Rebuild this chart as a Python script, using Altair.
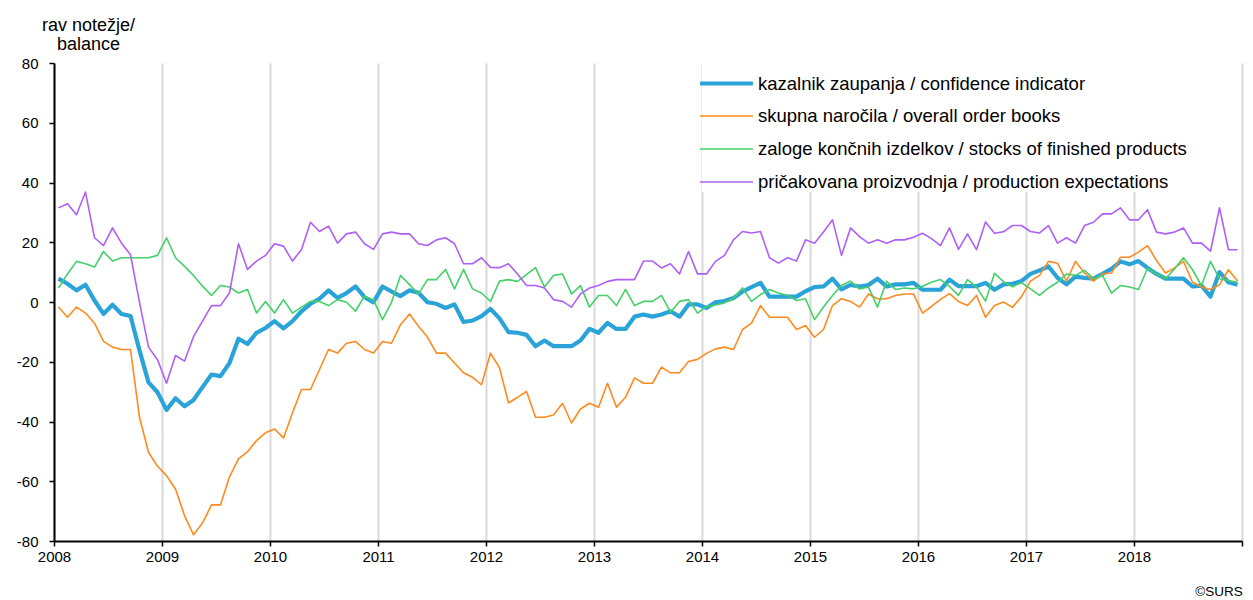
import altair as alt
import pandas as pd

# Monthly balances, Jan 2008 - Dec 2018
confidence = [
    7.8, 6.1, 3.9, 5.8, 0.5, -4.0, -0.9, -4.0, -4.7, -16.2, -26.9, -30.2,
    -36.1, -32.2, -34.9, -32.8, -28.5, -24.3, -24.8, -20.4, -12.3, -14.0, -10.3, -8.7,
    -6.4, -8.8, -6.4, -3.1, -0.6, 1.1, 3.9, 1.4, 3.0, 5.2, 1.6, -0.1,
    5.2, 3.5, 2.0, 3.9, 3.1, -0.1, -0.6, -2.0, -0.8, -6.7, -6.2, -4.7,
    -2.3, -5.5, -10.1, -10.3, -11.0, -14.8, -12.9, -14.8, -14.8, -14.8, -12.9, -9.0,
    -10.3, -7.0, -9.0, -9.0, -4.9, -4.2, -4.9, -4.2, -3.1, -4.9, -0.8, -0.8,
    -2.0, -0.1, 0.3, 1.3, 3.5, 5.0, 6.4, 1.8, 1.8, 1.8, 1.8, 3.6,
    5.0, 5.2, 7.8, 4.2, 5.7, 5.2, 5.7, 7.8, 5.2, 5.9, 5.9, 6.4,
    4.1, 4.1, 4.1, 7.5, 5.3, 5.3, 5.3, 6.4, 4.1, 5.9, 6.1, 7.0,
    9.4, 10.6, 11.9, 8.1, 5.9, 8.5, 8.1, 7.8, 9.4, 11.1, 13.6, 12.6,
    13.7, 11.4, 9.4, 7.8, 7.8, 7.8, 5.2, 5.5, 1.8, 10.0, 6.6, 5.8,
]
order_books = [
    -1.7, -5.1, -1.7, -3.7, -7.1, -13.2, -15.1, -15.9, -15.9, -38.6, -50.3, -55.0,
    -58.1, -62.6, -71.5, -77.9, -74.0, -67.9, -67.9, -58.5, -52.5, -50.1, -46.4, -43.8,
    -42.5, -45.5, -37.1, -29.3, -29.3, -22.6, -15.9, -17.1, -13.8, -13.2, -15.9, -17.1,
    -13.2, -13.8, -7.6, -4.0, -8.1, -11.8, -17.1, -17.1, -20.4, -23.7, -25.2, -27.7,
    -17.1, -22.0, -33.8, -31.9, -29.9, -38.6, -38.6, -37.8, -33.9, -40.5, -35.8, -33.9,
    -35.2, -27.2, -35.2, -31.9, -25.4, -27.2, -27.2, -21.8, -23.7, -23.7, -19.9, -19.2,
    -17.2, -15.7, -15.1, -15.9, -9.2, -7.1, -1.2, -5.1, -5.1, -5.1, -9.2, -7.9,
    -11.8, -9.2, -1.2, 1.1, 0.2, -1.7, 2.7, 1.1, 1.1, 2.2, 2.7, 2.7,
    -3.7, -1.5, 0.9, 2.8, 0.2, -1.2, 2.2, -5.1, -1.2, 0.0, -1.8, 1.8,
    7.0, 8.9, 13.6, 13.0, 7.0, 13.6, 9.7, 7.0, 9.4, 9.7, 15.0, 15.0,
    16.7, 18.9, 13.9, 9.7, 11.4, 13.6, 6.6, 5.0, 4.2, 5.8, 10.8, 7.0,
]
stocks = [
    4.7, 9.4, 13.6, 12.8, 11.7, 16.9, 13.7, 14.8, 14.8, 14.8, 14.8, 15.6,
    21.5, 14.8, 11.9, 8.9, 5.3, 2.2, 5.5, 5.0, 3.0, 4.2, -3.7, 0.2,
    -3.7, 0.8, -3.7, -1.7, 0.2, 0.2, -1.2, 0.8, -0.1, -3.1, 2.0, 0.7,
    -5.9, -0.1, 8.9, 5.8, 2.7, 7.5, 7.5, 10.9, 4.4, 10.9, 4.4, 3.0,
    0.2, 7.0, 7.5, 6.9, 9.2, 11.5, 5.0, 8.9, 9.4, 2.7, 5.5, -1.7,
    2.2, 2.2, -1.2, 4.2, -1.2, 0.2, 0.2, 2.2, -3.4, 0.2, 0.8, -3.7,
    -1.5, -1.0, -0.3, 1.3, 4.7, 0.2, 2.5, 4.2, 3.0, 2.2, 0.5, 1.1,
    -5.9, -1.7, 2.2, 5.5, 7.0, 4.4, 5.0, -1.7, 6.9, 4.2, 4.7, 4.4,
    5.3, 6.6, 7.5, 5.2, 2.2, 7.5, 5.0, 0.3, 9.6, 6.8, 5.1, 6.5,
    4.4, 2.2, 4.7, 6.6, 9.4, 8.9, 10.6, 7.8, 8.9, 3.0, 5.5, 5.0,
    4.2, 11.3, 9.4, 7.8, 11.1, 14.8, 10.8, 5.5, 13.6, 7.8, 7.2, 6.6,
]
production = [
    31.5, 32.9, 29.2, 36.8, 21.5, 18.9, 24.8, 19.7, 15.8, -0.1, -15.1, -19.3,
    -27.2, -17.9, -19.8, -11.6, -6.4, -1.2, -1.2, 3.1, 19.5, 10.9, 13.7, 15.6,
    19.5, 18.7, 13.7, 17.6, 26.7, 23.6, 25.4, 19.7, 22.8, 23.4, 19.5, 17.6,
    22.8, 23.4, 22.8, 22.8, 19.5, 18.9, 20.8, 21.5, 19.5, 12.8, 12.8, 14.8,
    11.6, 11.5, 12.8, 9.4, 5.5, 5.5, 4.7, 0.8, 0.2, -1.7, 2.7, 4.7,
    5.5, 6.9, 7.5, 7.5, 7.5, 13.7, 13.7, 11.4, 12.8, 9.4, 16.9, 9.4,
    9.4, 13.6, 15.6, 20.8, 23.6, 23.1, 23.6, 14.8, 13.0, 14.8, 13.7, 20.8,
    19.7, 23.4, 27.5, 15.6, 24.8, 21.9, 19.7, 20.8, 19.7, 20.8, 20.8, 21.7,
    23.0, 21.2, 18.9, 24.8, 17.6, 22.8, 17.5, 26.8, 23.0, 23.5, 25.6, 25.6,
    23.6, 23.1, 25.6, 19.7, 21.5, 19.7, 25.6, 26.7, 29.5, 29.5, 31.5, 27.5,
    27.5, 30.9, 23.4, 22.8, 23.4, 24.8, 19.7, 19.7, 17.0, 31.5, 17.5, 17.5,
]

series_names = [
    "kazalnik zaupanja / confidence indicator",
    "skupna naročila / overall order books",
    "zaloge končnih izdelkov / stocks of finished products",
    "pričakovana proizvodnja / production expectations",
]
series_values = [confidence, order_books, stocks, production]
colors = ["#2AA3D8", "#FF8A1F", "#45D06A", "#AE60F6"]
widths = [4.2, 1.6, 1.6, 1.6]
year_ticks = list(range(2008, 2020))
y_ticks = list(range(-80, 81, 20))
y_title = ["rav notežje/", "balance"]
credit = "©SURS"

months = pd.period_range("2008-01", "2018-12", freq="M")
t_vals = [p.year + (p.month - 0.5) / 12 for p in months]

rows = []
for name, vals in zip(series_names, series_values):
    for tv, v in zip(t_vals, vals):
        rows.append({"t": tv, "value": v, "series": name})
df = pd.DataFrame(rows)

font = "Liberation Sans"

legend = alt.Legend(
    title=None,
    orient="none",
    legendX=648,
    legendY=-4,
    fillColor="white",
    padding=0,
    symbolType="M-1.19,0H1.19",
    symbolSize=1971,
    labelFontSize=18.5,
    labelFont=font,
    labelColor="black",
    labelOffset=7,
    rowPadding=0,
    labelLimit=700,
)

chart = alt.Chart(df).mark_line(strokeJoin="round").encode(
    x=alt.X(
        "t:Q",
        scale=alt.Scale(domain=[2008, 2019], nice=False, zero=False),
        axis=alt.Axis(
            values=year_ticks,
            labelExpr="datum.value == 2019 ? '' : '' + datum.value",
            grid=True,
            gridColor="#D9D9D9",
            gridWidth=2,
            domainColor="black",
            domainWidth=2,
            tickColor="black",
            tickWidth=1.5,
            tickSize=5,
            labelFontSize=15,
            labelFont=font,
            labelColor="black",
            labelPadding=3,
            labelFlush=False,
            title=None,
        ),
    ),
    y=alt.Y(
        "value:Q",
        scale=alt.Scale(domain=[-80, 80], nice=False),
        axis=alt.Axis(
            values=y_ticks,
            labelExpr="'' + datum.value",
            grid=False,
            domainColor="black",
            domainWidth=2,
            tickColor="black",
            tickWidth=1.5,
            tickSize=5,
            labelFontSize=15,
            labelFont=font,
            labelColor="black",
            labelPadding=11,
            title=y_title,
            titleAngle=0,
            titleAlign="center",
            titleBaseline="top",
            titleX=34,
            titleY=-47,
            titleFontSize=18,
            titleFont=font,
            titleFontWeight="normal",
            titleColor="black",
            titleLineHeight=19.5,
        ),
    ),
    color=alt.Color("series:N", scale=alt.Scale(domain=series_names, range=colors), legend=legend),
    strokeWidth=alt.StrokeWidth(
        "series:N",
        scale=alt.Scale(type="ordinal", domain=series_names, range=widths),
        legend=legend,
    ),
).properties(
    width=1188,
    height=478,
    padding={"left": 46, "top": 55, "right": 3, "bottom": 57},
    autosize=alt.AutoSizeParams(type="none"),
    title=alt.TitleParams(
        credit,
        orient="bottom",
        anchor="end",
        fontSize=13.5,
        font=font,
        fontWeight="normal",
        color="black",
        offset=21,
    ),
).configure_view(stroke=None)

chart.save("out.html", embed_options={"renderer": "svg", "actions": False})
